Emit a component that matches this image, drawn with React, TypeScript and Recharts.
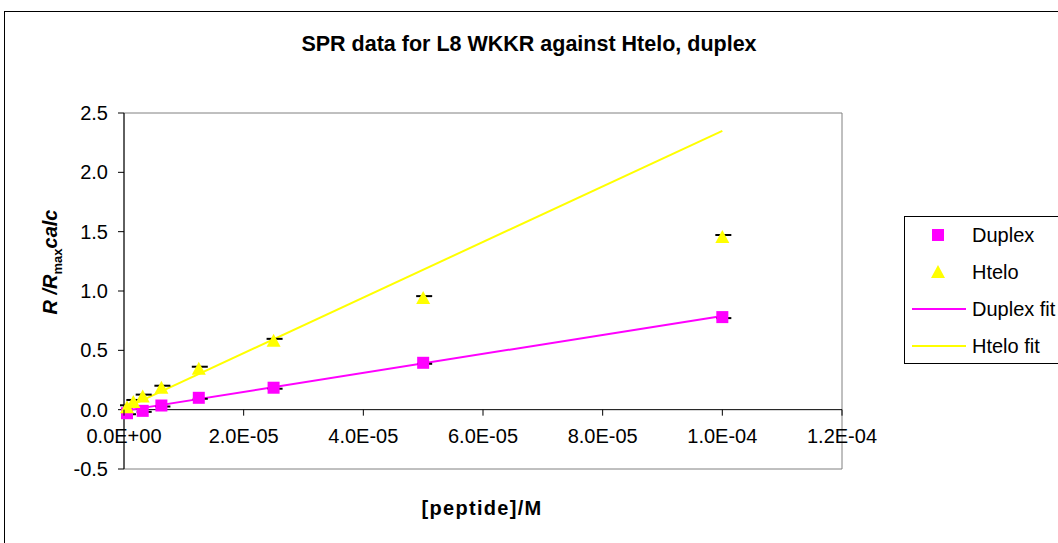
import React from 'react';
import {
  ScatterChart,
  Scatter,
  XAxis,
  YAxis,
  Legend,
  ReferenceLine,
  ReferenceArea,
} from 'recharts';

const FONT = '"Liberation Sans", Arial, sans-serif';

// concentrations (M)
const hteloConc = [5e-7, 1.5625e-6, 3.125e-6, 6.25e-6, 1.25e-5, 2.5e-5, 5e-5, 1e-4];
const duplexConc = [5e-7, 3.125e-6, 6.25e-6, 1.25e-5, 2.5e-5, 5e-5, 1e-4];
// R / Rmax calc
const hteloValues = [0.02, 0.065, 0.11, 0.185, 0.345, 0.58, 0.94, 1.455];
const duplexValues = [-0.03, -0.01, 0.035, 0.1, 0.185, 0.395, 0.78];
// linear fits
const fitConc = [5e-7, 1e-4];
const hteloFitValues = [0.02, 2.35];
const duplexFitValues = [-0.006, 0.79];

const xTicks = [0, 2e-5, 4e-5, 6e-5, 8e-5, 1e-4, 1.2e-4];
const yTicks = [-0.5, 0, 0.5, 1, 1.5, 2, 2.5];

const toPoints = (xs: number[], ys: number[]) => xs.map((x, i) => ({ x, y: ys[i] }));

const hteloData = toPoints(hteloConc, hteloValues);
const duplexData = toPoints(duplexConc, duplexValues);
const hteloFit = toPoints(fitConc, hteloFitValues);
const duplexFit = toPoints(fitConc, duplexFitValues);

const fmtSci = (v: number) => {
  const [m, e] = v.toExponential(1).split('e');
  const n = parseInt(e, 10);
  return `${m}E${n < 0 ? '-' : '+'}${String(Math.abs(n)).padStart(2, '0')}`;
};

// plot area height, used to lift the x axis up to y = 0
const PLOT_H = 356;
const ZERO_SHIFT = (PLOT_H * 0.5) / 3;

const XTick = (props: any) => {
  const { x, y, payload } = props;
  const zeroY = y - 8 - ZERO_SHIFT;
  return (
    <g>
      <line x1={x} x2={x} y1={zeroY} y2={zeroY + 6} stroke="#000" />
      <text x={x} y={zeroY + 33} textAnchor="middle" fontSize={20} fontFamily={FONT} fill="#000">
        {fmtSci(payload.value)}
      </text>
    </g>
  );
};

const SquareMark = (props: any) => {
  const { cx, cy } = props;
  return (
    <g>
      <line x1={cx - 6} x2={cx + 9} y1={cy + 1} y2={cy + 1} stroke="#000" strokeWidth={2} />
      <rect x={cx - 6} y={cy - 6} width={12} height={12} fill="#FF00FF" />
    </g>
  );
};

const TriangleMark = (props: any) => {
  const { cx, cy } = props;
  return (
    <g>
      <line x1={cx - 7} x2={cx + 9} y1={cy - 2} y2={cy - 2} stroke="#000" strokeWidth={2} />
      <polygon points={`${cx},${cy - 7} ${cx + 7},${cy + 6} ${cx - 7},${cy + 6}`} fill="#FFFF00" />
    </g>
  );
};

const NoMark = () => <g />;

const legendItems = [
  { name: 'Duplex', kind: 'square', color: '#FF00FF' },
  { name: 'Htelo', kind: 'triangle', color: '#FFFF00' },
  { name: 'Duplex fit', kind: 'line', color: '#FF00FF' },
  { name: 'Htelo fit', kind: 'line', color: '#FFFF00' },
];

const LegendBox = () => (
  <div
    style={{
      position: 'relative',
      width: 180,
      height: 146,
      border: '1px solid #000',
      background: '#fff',
      fontFamily: FONT,
      fontSize: 20,
    }}
  >
    {legendItems.map((it, i) => (
      <div key={it.name} style={{ position: 'absolute', left: 0, top: 6 + i * 37, height: 24, width: 180 }}>
        <svg width={64} height={24} style={{ position: 'absolute', left: 0, top: 0 }}>
          {it.kind === 'square' && <rect x={27} y={6} width={12} height={12} fill={it.color} />}
          {it.kind === 'triangle' && <polygon points="33,5 40,18 26,18" fill={it.color} />}
          {it.kind === 'line' && <line x1={7} x2={61} y1={12} y2={12} stroke={it.color} strokeWidth={2} />}
        </svg>
        <span style={{ position: 'absolute', left: 67, top: 0, lineHeight: '24px', whiteSpace: 'nowrap', color: '#000' }}>
          {it.name}
        </span>
      </div>
    ))}
  </div>
);

export default function App() {
  return (
    <div
      style={{
        position: 'fixed',
        left: 0,
        top: 0,
        width: 1058,
        height: 543,
        overflow: 'hidden',
        background: '#fff',
      }}
    >
      <div
        style={{
          position: 'absolute',
          left: 4,
          top: 11,
          width: 1200,
          height: 700,
          border: '1px solid #000',
        }}
      />
      <div style={{ position: 'absolute', left: 0, top: 0 }}>
        <ScatterChart width={1058} height={543} margin={{ top: 113, right: 36, bottom: 44, left: 0 }}>
          <XAxis
            type="number"
            dataKey="x"
            domain={[0, 1.2e-4]}
            ticks={xTicks}
            axisLine={false}
            tickLine={false}
            tickSize={6}
            tickMargin={2}
            height={30}
            tick={<XTick />}
            interval={0}
          />
          <YAxis
            type="number"
            dataKey="y"
            domain={[-0.5, 2.5]}
            ticks={yTicks}
            width={124}
            interval={0}
            tickFormatter={(v: number) => v.toFixed(1)}
            tick={{ fontSize: 20, fontFamily: FONT, fill: '#000' }}
            axisLine={{ stroke: '#000' }}
            tickLine={{ stroke: '#000' }}
            tickSize={6}
            tickMargin={10}
          />
          <ReferenceArea x1={0} x2={1.2e-4} y1={-0.5} y2={2.5} fill="none" stroke="#808080" strokeWidth={1} />
          <ReferenceLine y={0} stroke="#000" />
          <Legend
            layout="vertical"
            align="right"
            verticalAlign="top"
            content={<LegendBox />}
            wrapperStyle={{ position: 'absolute', left: 904, top: 216, width: 180 }}
          />
          <Scatter name="Duplex fit" data={duplexFit} line={{ stroke: '#FF00FF', strokeWidth: 2 }} shape={<NoMark />} isAnimationActive={false} />
          <Scatter name="Htelo fit" data={hteloFit} line={{ stroke: '#FFFF00', strokeWidth: 2 }} shape={<NoMark />} isAnimationActive={false} />
          <Scatter name="Duplex" data={duplexData} shape={<SquareMark />} isAnimationActive={false} />
          <Scatter name="Htelo" data={hteloData} shape={<TriangleMark />} isAnimationActive={false} />
        </ScatterChart>
      </div>
      <svg width={1058} height={543} style={{ position: 'absolute', left: 0, top: 0, pointerEvents: 'none' }}>
        <text x={529} y={51} textAnchor="middle" fontFamily={FONT} fontSize={21.5} fontWeight="bold" fill="#000">
          SPR data for L8 WKKR against Htelo, duplex
        </text>
        <text x={482} y={515} textAnchor="middle" fontFamily={FONT} fontSize={20} fontWeight="bold" letterSpacing={1.3} fill="#000">
          [peptide]/M
        </text>
        <text
          x={57}
          y={262}
          textAnchor="middle"
          transform="rotate(-90 57 262)"
          fontFamily={FONT}
          fontSize={20}
          fontWeight="bold"
          fontStyle="italic"
          fill="#000"
        >
          R /R
          <tspan fontSize={13} fontStyle="normal" dy={5}>max</tspan>
          <tspan dy={-5}>calc</tspan>
        </text>
      </svg>
    </div>
  );
}
